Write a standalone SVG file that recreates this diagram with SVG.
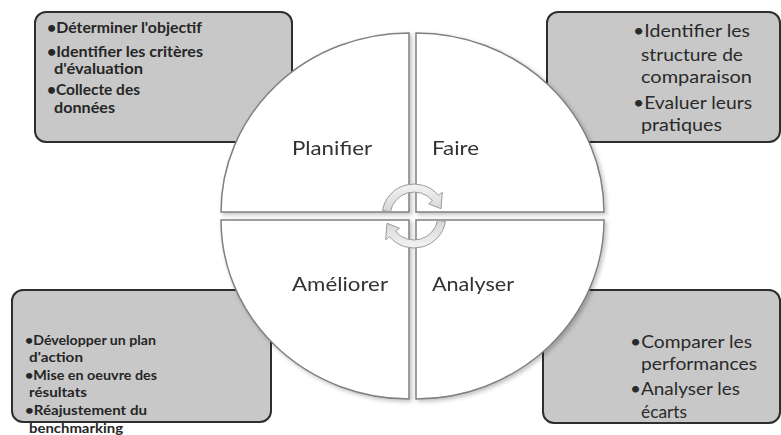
<svg xmlns="http://www.w3.org/2000/svg" width="781" height="435" viewBox="0 0 781 435">
<defs>
<style>
.box{fill:#c8c8c8;stroke:#2e2e2e;stroke-width:2}
.quad{fill:#ffffff;stroke:#808080;stroke-width:1.5}
.bt{font-family:Lato,"Liberation Sans",sans-serif;font-size:15px;font-weight:bold;fill:#262626}
.bl{font-family:Lato,"Liberation Sans",sans-serif;font-size:14px;font-weight:bold;fill:#262626}
.rt{font-family:Lato,"Liberation Sans",sans-serif;font-size:17px;fill:#2a2a2a}
.lbl{font-family:Lato,"Liberation Sans",sans-serif;font-size:19px;fill:#333333}
.arr{fill:url(#ag);stroke:#9a9a9a;stroke-width:1}
</style>
<linearGradient id="ag" x1="0" y1="0" x2="0" y2="1">
<stop offset="0" stop-color="#f4f4f4"/>
<stop offset="1" stop-color="#d6d6d6"/>
</linearGradient>
<filter id="sh" x="-10%" y="-10%" width="120%" height="120%">
<feDropShadow dx="2" dy="2" stdDeviation="2" flood-color="#000" flood-opacity="0.25"/>
</filter>
</defs>
<rect width="781" height="435" fill="#ffffff"/>

<g id="box-planifier">
<rect class="box" x="35" y="12" width="257" height="130" rx="11"/>
<text class="bt" x="47" y="33" textLength="155" lengthAdjust="spacingAndGlyphs">•Déterminer l'objectif</text>
<text class="bt" x="47" y="57" textLength="156" lengthAdjust="spacingAndGlyphs">•Identifier les critères</text>
<text class="bt" x="54" y="74" textLength="89" lengthAdjust="spacingAndGlyphs">d'évaluation</text>
<text class="bt" x="47" y="95" textLength="93" lengthAdjust="spacingAndGlyphs">•Collecte des</text>
<text class="bt" x="54" y="113" textLength="61" lengthAdjust="spacingAndGlyphs">données</text>
</g>

<g id="box-faire">
<rect class="box" x="547" y="12" width="233" height="130" rx="11"/>
<text class="rt" x="633" y="37" textLength="117" lengthAdjust="spacingAndGlyphs">•Identifier les</text>
<text class="rt" x="641" y="61" textLength="102" lengthAdjust="spacingAndGlyphs">structure de</text>
<text class="rt" x="641" y="83" textLength="111" lengthAdjust="spacingAndGlyphs">comparaison</text>
<text class="rt" x="633" y="109" textLength="119" lengthAdjust="spacingAndGlyphs">•Evaluer leurs</text>
<text class="rt" x="641" y="131" textLength="81" lengthAdjust="spacingAndGlyphs">pratiques</text>
</g>

<g id="box-ameliorer">
<rect class="box" x="12" y="290" width="259" height="132" rx="11"/>
<text class="bl" x="25" y="345" textLength="131" lengthAdjust="spacingAndGlyphs">•Développer un plan</text>
<text class="bl" x="29" y="362" textLength="54" lengthAdjust="spacingAndGlyphs">d'action</text>
<text class="bl" x="25" y="380" textLength="132" lengthAdjust="spacingAndGlyphs">•Mise en oeuvre des</text>
<text class="bl" x="29" y="397" textLength="58" lengthAdjust="spacingAndGlyphs">résultats</text>
<text class="bl" x="25" y="415" textLength="122" lengthAdjust="spacingAndGlyphs">•Réajustement du</text>
<text class="bl" x="29" y="433" textLength="94" lengthAdjust="spacingAndGlyphs">benchmarking</text>
</g>

<g id="box-analyser">
<rect class="box" x="543" y="290" width="237" height="133" rx="11"/>
<text class="rt" x="630" y="348" textLength="122" lengthAdjust="spacingAndGlyphs">•Comparer les</text>
<text class="rt" x="641" y="370" textLength="116" lengthAdjust="spacingAndGlyphs">performances</text>
<text class="rt" x="630" y="395" textLength="110" lengthAdjust="spacingAndGlyphs">•Analyser les</text>
<text class="rt" x="641" y="418" textLength="46" lengthAdjust="spacingAndGlyphs">écarts</text>
</g>

<g id="quad-planifier" filter="url(#sh)">
<path class="quad" d="M409 212 L221 212 A188 179 0 0 1 409 33 Z"/>
<text class="lbl" x="292" y="155" textLength="80" lengthAdjust="spacingAndGlyphs">Planifier</text>
</g>
<g id="quad-faire" filter="url(#sh)">
<path class="quad" d="M416 212 L416 33 A188 179 0 0 1 604 212 Z"/>
<text class="lbl" x="432" y="155" textLength="47" lengthAdjust="spacingAndGlyphs">Faire</text>
</g>
<g id="quad-ameliorer" filter="url(#sh)">
<path class="quad" d="M409 220 L409 399 A188 179 0 0 1 221 220 Z"/>
<text class="lbl" x="292" y="291" textLength="96" lengthAdjust="spacingAndGlyphs">Améliorer</text>
</g>
<g id="quad-analyser" filter="url(#sh)">
<path class="quad" d="M416 220 L604 220 A188 179 0 0 1 416 399 Z"/>
<text class="lbl" x="432" y="291" textLength="82" lengthAdjust="spacingAndGlyphs">Analyser</text>
</g>

<g id="connectors">
<path class="arr" d="M382.5 210.4 A32 32 0 0 1 438.5 195.4 L442.3 192.2 L441 208.7 L428.6 203.8 L432.4 200.6 A24 24 0 0 0 390.4 211.8 Z"/>
<path class="arr" transform="rotate(180 414 216)" d="M382.5 210.4 A32 32 0 0 1 438.5 195.4 L442.3 192.2 L441 208.7 L428.6 203.8 L432.4 200.6 A24 24 0 0 0 390.4 211.8 Z"/>
</g>
</svg>
